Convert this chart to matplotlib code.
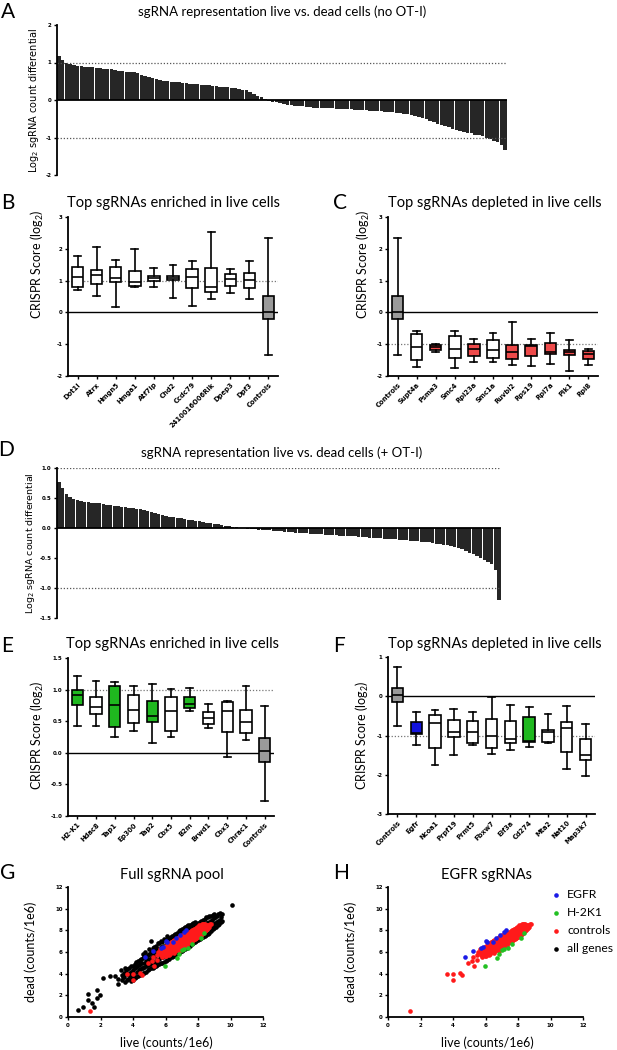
import matplotlib
matplotlib.use('Agg')
import matplotlib.pyplot as plt
import numpy as np

# ---------------- data ----------------
# Panel A waterfall (sorted log2 differential, no OT-I)
waterfall_A = [1.17, 1.06, 1.00, 0.96, 0.93, 0.91, 0.90, 0.89, 0.88, 0.87,
               0.86, 0.85, 0.84, 0.83, 0.82, 0.80, 0.78, 0.77, 0.76, 0.75,
               0.74, 0.72, 0.68, 0.64, 0.61, 0.58, 0.56, 0.54, 0.52, 0.50,
               0.49, 0.48, 0.47, 0.46, 0.45, 0.44, 0.43, 0.42, 0.41, 0.40,
               0.39, 0.38, 0.37, 0.36, 0.35, 0.34, 0.33, 0.32, 0.30, 0.28,
               0.26, 0.22, 0.17, 0.12, 0.07, 0.02, -0.02, -0.04, -0.06, -0.08,
               -0.10, -0.12, -0.14, -0.15, -0.16, -0.17, -0.18, -0.19, -0.20, -0.20,
               -0.21, -0.21, -0.22, -0.22, -0.23, -0.23, -0.24, -0.24, -0.25, -0.26,
               -0.26, -0.27, -0.27, -0.28, -0.29, -0.29, -0.30, -0.31, -0.32, -0.33,
               -0.34, -0.35, -0.36, -0.38, -0.40, -0.42, -0.45, -0.48, -0.51, -0.55,
               -0.59, -0.63, -0.66, -0.70, -0.73, -0.76, -0.79, -0.82, -0.85, -0.87,
               -0.89, -0.92, -0.94, -0.97, -1.00, -1.04, -1.08, -1.13, -1.20, -1.32]

# Panel D waterfall (+ OT-I)
waterfall_D = [0.77, 0.66, 0.56, 0.52, 0.49, 0.47, 0.45, 0.44, 0.43, 0.42,
               0.41, 0.41, 0.40, 0.39, 0.38, 0.37, 0.36, 0.35, 0.35, 0.34,
               0.33, 0.32, 0.31, 0.30, 0.28, 0.27, 0.25, 0.23, 0.21, 0.20,
               0.19, 0.18, 0.17, 0.16, 0.15, 0.14, 0.13, 0.12, 0.11, 0.10,
               0.09, 0.08, 0.07, 0.06, 0.05, 0.04, 0.03, 0.02, 0.01, 0.005,
               -0.005, -0.01, -0.015, -0.02, -0.025, -0.03, -0.035, -0.04, -0.045, -0.05,
               -0.055, -0.06, -0.065, -0.07, -0.075, -0.08, -0.085, -0.09, -0.095, -0.10,
               -0.10, -0.105, -0.11, -0.115, -0.12, -0.12, -0.125, -0.13, -0.135, -0.14,
               -0.14, -0.145, -0.15, -0.155, -0.16, -0.16, -0.165, -0.17, -0.175, -0.18,
               -0.185, -0.19, -0.195, -0.20, -0.205, -0.21, -0.215, -0.22, -0.225, -0.23,
               -0.24, -0.25, -0.26, -0.27, -0.28, -0.29, -0.30, -0.31, -0.33, -0.35,
               -0.38, -0.41, -0.44, -0.47, -0.50, -0.53, -0.56, -0.60, -0.70, -1.20]

# Panel B
labels_B = ['Dot1l', 'Atrx', 'Hmgn5', 'Hmga1', 'Atf7ip', 'Chd2', 'Ccdc79',
            '2410016O06Rik', 'Dpep3', 'Dpf3', 'Controls']
B_hi = [1.78, 2.05, 1.64, 2.00, 1.41, 1.48, 1.61, 2.52, 1.36, 1.61, 2.35]
B_q3 = [1.44, 1.33, 1.44, 1.29, 1.15, 1.14, 1.36, 1.39, 1.21, 1.23, 0.53]
B_med = [1.12, 1.19, 1.07, 0.97, 1.07, 1.08, 1.11, 0.81, 1.06, 1.02, 0.02]
B_q1 = [0.81, 0.88, 0.96, 0.83, 1.00, 1.02, 0.76, 0.63, 0.83, 0.78, -0.22]
B_lo = [0.72, 0.51, 0.16, 0.79, 0.79, 0.46, 0.19, 0.41, 0.60, 0.41, -1.34]
B_groups = ['w', 'w', 'w', 'w', 'w', 'w', 'w', 'w', 'w', 'w', 'c']

# Panel C
labels_C = ['Controls', 'Supt4a', 'Psma3', 'Smc4', 'Rpl23a', 'Smc1a', 'Ruvbl2',
            'Rps19', 'Rpl7a', 'Plk1', 'Rpl8']
C_hi = [2.35, -0.57, -0.98, -0.58, -0.85, -0.66, -0.30, -0.84, -0.64, -0.87, -1.16]
C_q3 = [0.53, -0.68, -1.01, -0.74, -1.00, -0.88, -1.03, -1.01, -0.96, -1.17, -1.20]
C_med = [0.02, -1.10, -1.08, -1.15, -1.15, -1.19, -1.24, -1.05, -1.26, -1.23, -1.31]
C_q1 = [-0.22, -1.50, -1.19, -1.43, -1.36, -1.43, -1.45, -1.38, -1.30, -1.34, -1.48]
C_lo = [-1.34, -1.71, -1.23, -1.74, -1.56, -1.57, -1.66, -1.68, -1.61, -1.85, -1.66]
C_groups = ['c', 'w', 'r', 'w', 'r', 'w', 'r', 'r', 'r', 'r', 'r']

# Panel E
labels_E = ['H2-K1', 'Hdac8', 'Tap1', 'Ep300', 'Tap2', 'Cbx5', 'B2m', 'Brwd1',
            'Cbx3', 'Chrac1', 'Controls']
E_hi = [1.21, 1.13, 1.12, 1.06, 1.09, 1.01, 1.02, 0.78, 0.82, 1.06, 0.74]
E_q3 = [0.99, 0.89, 1.05, 0.91, 0.82, 0.89, 0.88, 0.64, 0.81, 0.68, 0.23]
E_med = [0.92, 0.72, 0.76, 0.67, 0.58, 0.66, 0.77, 0.55, 0.66, 0.48, 0.03]
E_q1 = [0.76, 0.62, 0.41, 0.47, 0.49, 0.35, 0.71, 0.45, 0.33, 0.32, -0.14]
E_lo = [0.43, 0.43, 0.25, 0.35, 0.15, 0.25, 0.66, 0.39, -0.07, 0.21, -0.77]
E_groups = ['g', 'w', 'g', 'w', 'g', 'w', 'g', 'w', 'w', 'w', 'c']

# Panel F
labels_F = ['Controls', 'Egfr', 'Ncoa1', 'Prpf19', 'Prmt5', 'Fbxw7', 'Eif3a',
            'Cd274', 'Mta2', 'Nat10', 'Map3k7']
F_hi = [0.74, -0.39, -0.36, -0.32, -0.40, -0.02, -0.22, -0.27, -0.44, -0.26, -0.71]
F_q3 = [0.22, -0.66, -0.49, -0.61, -0.64, -0.57, -0.64, -0.54, -0.86, -0.66, -1.08]
F_med = [0.03, -0.94, -0.68, -0.90, -0.90, -1.00, -1.10, -1.14, -0.90, -0.82, -1.49]
F_q1 = [-0.14, -0.96, -1.32, -1.05, -1.20, -1.32, -1.18, -1.17, -1.17, -1.43, -1.63]
F_lo = [-0.77, -1.24, -1.74, -1.49, -1.25, -1.46, -1.36, -1.30, -1.19, -1.86, -2.04]
F_groups = ['c', 'b', 'w', 'w', 'w', 'w', 'w', 'g', 'w', 'w', 'w']

# Scatter: all genes (live, dead) counts/1e6 -- one line of x matches one line of y
allgenes_x = [0.60, 0.95, 1.25, 1.20, 1.45, 1.60, 1.80, 1.80, 1.95, 2.15, 2.60, 2.90, 3.10, 3.10, 10.1,
              3.30, 3.35, 3.25,
              3.40, 3.42,
              3.50, 3.45, 3.55, 3.50,
              3.60, 3.62, 3.58,
              3.70, 3.75, 3.65,
              3.80, 3.82, 3.78,
              3.90, 3.95, 3.85, 3.90,
              4.00, 4.02, 3.98, 4.01,
              4.10, 4.05, 4.15, 4.10,
              4.20, 4.22, 4.18, 4.21,
              4.30, 4.35, 4.25, 4.30,
              4.40, 4.42, 4.38, 4.41,
              4.50, 4.55, 4.45, 4.50,
              4.60, 4.62, 4.58, 4.61, 4.60,
              4.70, 4.65, 4.75, 4.70, 4.72,
              4.80, 4.82, 4.78, 4.81,
              4.90, 4.95, 4.85, 4.90,
              5.00, 5.02, 4.98, 5.01, 5.00,
              5.10, 5.05, 5.15, 5.10, 5.12,
              5.20, 5.22, 5.18, 5.21, 5.20,
              5.30, 5.35, 5.25, 5.30, 5.28,
              5.40, 5.42, 5.38, 5.41, 5.40,
              5.50, 5.45, 5.55, 5.50, 5.52,
              5.60, 5.62, 5.58, 5.61, 5.60,
              5.70, 5.75, 5.65, 5.70, 5.72,
              5.80, 5.82, 5.78, 5.81, 5.80,
              5.90, 5.85, 5.95, 5.90, 5.92,
              6.00, 6.02, 5.98, 6.01, 6.00,
              6.10, 6.15, 6.05, 6.10, 6.07,
              6.20, 6.22, 6.18, 6.21, 6.20,
              6.30, 6.25, 6.35, 6.30, 6.32,
              6.40, 6.42, 6.38, 6.41, 6.40,
              6.50, 6.45, 6.55, 6.50, 6.52,
              6.60, 6.62, 6.58, 6.61, 6.60,
              6.70, 6.75, 6.65, 6.70, 6.72,
              6.80, 6.82, 6.78, 6.81, 6.80,
              6.90, 6.85, 6.95, 6.90, 6.92,
              7.00, 7.02, 6.98, 7.01, 7.00,
              7.10, 7.15, 7.05, 7.10, 7.12,
              7.20, 7.22, 7.18, 7.21, 7.20,
              7.30, 7.25, 7.35, 7.30, 7.32,
              7.40, 7.42, 7.38, 7.41, 7.40,
              7.50, 7.45, 7.55, 7.50, 7.52,
              7.60, 7.62, 7.58, 7.61, 7.60,
              7.70, 7.75, 7.65, 7.70, 7.72,
              7.80, 7.82, 7.78, 7.81, 7.80,
              7.90, 7.95, 7.85, 7.90,
              8.00, 8.02, 7.98, 8.01,
              8.10, 8.05, 8.15, 8.10,
              8.20, 8.22, 8.18, 8.21,
              8.30, 8.35, 8.25, 8.30,
              8.40, 8.42, 8.38, 8.41,
              8.50, 8.45, 8.55, 8.50,
              8.60, 8.62, 8.58, 8.61,
              8.70, 8.75, 8.65, 8.70,
              8.80, 8.82, 8.78, 8.81,
              8.90, 8.95, 8.85, 8.90,
              9.00, 9.02, 8.98, 9.01,
              9.10, 9.15, 9.05,
              9.20, 9.22, 9.18,
              9.30, 9.35, 9.25,
              9.40, 9.42, 9.38,
              9.50, 9.45]
allgenes_y = [0.65, 0.90, 2.10, 1.55, 1.30, 0.90, 1.75, 2.45, 2.05, 3.60, 3.75, 3.80, 3.55, 3.05, 10.3,
              3.40, 3.90, 4.30,
              3.65, 4.10,
              3.20, 3.70, 4.10, 4.50,
              3.45, 3.95, 4.35,
              3.50, 3.90, 4.40,
              3.60, 4.05, 4.55,
              3.30, 3.80, 4.20, 4.70,
              3.45, 3.85, 4.30, 4.75,
              3.60, 4.00, 4.50, 4.90,
              3.70, 4.15, 4.60, 5.05,
              3.80, 4.30, 4.70, 5.20,
              3.90, 4.40, 4.80, 5.30,
              4.00, 4.50, 4.90, 5.40,
              4.05, 4.50, 4.95, 5.45, 5.80,
              4.10, 4.60, 5.00, 5.50, 6.00,
              4.20, 4.70, 5.15, 5.60,
              4.30, 4.80, 5.30, 5.70,
              4.40, 4.90, 5.35, 5.80, 6.30,
              4.50, 5.00, 5.50, 6.00, 7.00,
              4.50, 5.00, 5.45, 5.90, 6.40,
              4.60, 5.10, 5.60, 6.10, 6.50,
              4.70, 5.20, 5.65, 6.10, 6.60,
              4.80, 5.30, 5.80, 6.30, 6.80,
              4.90, 5.40, 5.85, 6.30, 6.80,
              5.00, 5.50, 6.00, 6.50, 7.00,
              5.00, 5.50, 6.00, 6.45, 6.95,
              5.10, 5.60, 6.10, 6.60, 7.20,
              5.20, 5.70, 6.20, 6.60, 7.10,
              5.30, 5.80, 6.30, 6.80, 7.50,
              5.40, 5.90, 6.40, 6.85, 7.30,
              5.50, 6.00, 6.50, 7.00, 7.40,
              5.50, 6.10, 6.55, 7.05, 7.50,
              5.60, 6.20, 6.70, 7.20, 7.60,
              5.75, 6.25, 6.75, 7.25, 7.70,
              5.90, 6.40, 6.90, 7.40, 7.80,
              5.90, 6.45, 6.95, 7.45, 7.90,
              6.00, 6.60, 7.10, 7.60, 8.00,
              6.10, 6.65, 7.15, 7.65, 8.10,
              6.20, 6.80, 7.30, 7.80, 8.20,
              6.30, 6.85, 7.35, 7.85, 8.30,
              6.40, 7.00, 7.50, 8.00, 8.40,
              6.50, 7.05, 7.55, 8.05, 8.45,
              6.60, 7.10, 7.70, 8.20, 8.50,
              6.70, 7.20, 7.75, 8.25, 8.60,
              6.80, 7.30, 7.90, 8.40, 8.70,
              6.90, 7.40, 7.95, 8.45, 8.80,
              7.00, 7.50, 8.10, 8.60,
              7.10, 7.60, 8.15, 8.65,
              7.20, 7.70, 8.30, 8.80,
              7.30, 7.80, 8.35, 8.85,
              7.40, 7.90, 8.50, 9.00,
              7.50, 8.00, 8.55, 9.05,
              7.60, 8.10, 8.70, 9.20,
              7.70, 8.20, 8.70, 9.20,
              7.80, 8.30, 8.80, 9.30,
              7.90, 8.40, 8.90, 9.35,
              8.10, 8.50, 9.00, 9.40,
              8.20, 8.65, 9.10, 9.50,
              8.30, 8.80, 9.20,
              8.45, 8.90, 9.35,
              8.60, 9.00, 9.50,
              8.75, 9.20, 9.60,
              8.90, 9.50]

# controls (live, dead) -- one line of x matches one line of y
controls_x = [1.35, 3.65, 4.00, 4.00, 4.45, 4.55, 4.90, 5.15, 5.30, 5.25, 5.45, 5.50, 5.55,
              5.70, 5.73, 5.67,
              5.75, 5.77,
              5.80, 5.83, 5.77,
              5.85, 5.87, 5.83,
              5.90, 5.93, 5.87,
              5.95, 5.97, 5.93, 5.96,
              6.00, 6.03, 5.97, 6.01,
              6.05, 6.07, 6.03, 6.06,
              6.10, 6.13, 6.07, 6.11,
              6.15, 6.17, 6.13, 6.16,
              6.20, 6.23, 6.17, 6.21,
              6.25, 6.27, 6.23, 6.26,
              6.30, 6.33, 6.27, 6.31,
              6.35, 6.37, 6.33, 6.36,
              6.40, 6.43, 6.37, 6.41,
              6.45, 6.47, 6.43, 6.46,
              6.50, 6.53, 6.47, 6.51, 6.49,
              6.55, 6.57, 6.53, 6.56, 6.54,
              6.60, 6.63, 6.57, 6.61,
              6.65, 6.67, 6.63, 6.66,
              6.70, 6.73, 6.67, 6.71,
              6.75, 6.77, 6.73, 6.76,
              6.80, 6.83, 6.77, 6.81, 6.79,
              6.85, 6.87, 6.83, 6.86, 6.84,
              6.90, 6.93, 6.87, 6.91,
              6.95, 6.97, 6.93, 6.96,
              7.00, 7.03, 6.97, 7.01, 6.99,
              7.05, 7.07, 7.03, 7.06, 7.04,
              7.10, 7.13, 7.07, 7.11,
              7.15, 7.17, 7.13, 7.16,
              7.20, 7.23, 7.17, 7.21,
              7.25, 7.27, 7.23, 7.26,
              7.30, 7.33, 7.27, 7.31,
              7.35, 7.37, 7.33, 7.36,
              7.40, 7.43, 7.37, 7.41,
              7.45, 7.47, 7.43, 7.46,
              7.50, 7.53, 7.47, 7.51,
              7.55, 7.57, 7.53, 7.56,
              7.60, 7.63, 7.57, 7.61,
              7.65, 7.67, 7.63, 7.66,
              7.70, 7.73, 7.67, 7.71,
              7.75, 7.77, 7.73, 7.76,
              7.80, 7.83, 7.77, 7.81,
              7.85, 7.87, 7.83, 7.86,
              7.90, 7.93, 7.87, 7.91,
              7.95, 7.97, 7.93, 7.96,
              8.00, 8.03, 7.97, 8.01,
              8.05, 8.07, 8.03, 8.06,
              8.10, 8.13, 8.07, 8.11,
              8.15, 8.17, 8.13, 8.16,
              8.20, 8.23, 8.17, 8.21,
              8.25, 8.27, 8.23, 8.26,
              8.30, 8.33, 8.27,
              8.35, 8.37, 8.33,
              8.40, 8.43, 8.37,
              8.45, 8.47, 8.43,
              8.50, 8.53,
              8.55, 8.57,
              8.60, 8.63,
              8.70, 8.72,
              8.80]
controls_y = [0.60, 3.95, 3.95, 3.45, 4.10, 3.85, 4.95, 5.15, 4.75, 5.50, 5.30, 5.75, 6.00,
              5.70, 6.00, 6.25,
              5.85, 6.10,
              5.50, 5.90, 6.30,
              5.70, 6.05, 6.35,
              5.80, 6.10, 6.40,
              5.65, 5.95, 6.25, 6.50,
              5.60, 5.90, 6.20, 6.50,
              5.75, 6.05, 6.35, 6.60,
              5.80, 6.00, 6.30, 6.60,
              5.90, 6.20, 6.50, 6.75,
              5.70, 6.10, 6.40, 6.70,
              5.85, 6.25, 6.55, 6.85,
              5.90, 6.20, 6.50, 6.80,
              6.05, 6.35, 6.65, 6.95,
              6.00, 6.30, 6.60, 6.90,
              6.10, 6.40, 6.70, 7.00,
              5.90, 6.20, 6.50, 6.80, 7.00,
              6.05, 6.35, 6.65, 6.95, 7.10,
              6.10, 6.40, 6.70, 7.00,
              6.25, 6.55, 6.85, 7.15,
              6.20, 6.50, 6.80, 7.10,
              6.30, 6.60, 6.90, 7.20,
              6.10, 6.40, 6.70, 7.00, 7.30,
              6.25, 6.55, 6.85, 7.15, 7.40,
              6.30, 6.60, 6.90, 7.20,
              6.45, 6.75, 7.05, 7.35,
              6.40, 6.70, 7.00, 7.30, 7.50,
              6.50, 6.85, 7.15, 7.45, 7.60,
              6.50, 6.80, 7.10, 7.40,
              6.60, 6.95, 7.25, 7.55,
              6.60, 6.90, 7.20, 7.50,
              6.70, 7.05, 7.35, 7.65,
              6.60, 7.00, 7.30, 7.60,
              6.75, 7.15, 7.45, 7.75,
              6.80, 7.10, 7.40, 7.70,
              6.90, 7.25, 7.55, 7.85,
              6.90, 7.20, 7.50, 7.80,
              7.00, 7.35, 7.65, 7.95,
              7.00, 7.30, 7.60, 7.90,
              7.10, 7.45, 7.75, 8.05,
              7.10, 7.40, 7.70, 8.00,
              7.20, 7.55, 7.85, 8.15,
              7.20, 7.50, 7.80, 8.10,
              7.30, 7.65, 7.95, 8.25,
              7.30, 7.60, 7.90, 8.20,
              7.40, 7.75, 8.05, 8.35,
              7.40, 7.70, 8.00, 8.30,
              7.50, 7.85, 8.15, 8.45,
              7.50, 7.80, 8.10, 8.40,
              7.60, 7.95, 8.25, 8.50,
              7.60, 7.90, 8.20, 8.40,
              7.70, 8.05, 8.35, 8.55,
              7.80, 8.10, 8.50,
              7.90, 8.20, 8.55,
              7.90, 8.20, 8.60,
              8.05, 8.35, 8.60,
              8.00, 8.30,
              8.15, 8.45,
              8.20, 8.50,
              8.35, 8.60,
              8.60]

egfr_x = [4.75, 5.25, 5.75, 5.85, 6.00, 6.10, 6.45, 6.65, 7.15, 7.25, 6.90]
egfr_y = [5.55, 6.10, 6.35, 6.50, 7.00, 6.90, 6.95, 7.30, 7.85, 8.00, 7.60]
h2k1_x = [5.95, 6.70, 6.80, 7.15, 7.40, 7.65, 8.20, 8.35, 7.00]
h2k1_y = [4.75, 5.45, 5.85, 6.30, 6.35, 6.70, 7.30, 7.80, 6.20]

scatter_ticks = [0, 2, 4, 6, 8, 10, 12]

# ---------------- style ----------------
W, H = 617, 1050
fig = plt.figure(figsize=(W / 100, H / 100), dpi=100)

TITLE_FONT = 'Lato'
TICK_FONT = 'DejaVu Sans'
COL = {'w': 'white', 'c': '#9a9a9a', 'r': '#ee4a4a', 'g': '#1fb81f', 'b': '#1212dd'}
SC_RED, SC_GREEN, SC_BLUE = '#ff1a1a', '#22c022', '#1a1ae6'


def add_ax(l, t, r, b):
    return fig.add_axes([l / W, 1 - b / H, (r - l) / W, (b - t) / H])


def ftext(x, y, s, **kw):
    fig.text(x / W, 1 - y / H, s, **kw)


def base_style(ax, bottom=True):
    for s in ['top', 'right']:
        ax.spines[s].set_visible(False)
    ax.spines['left'].set_linewidth(1.3)
    ax.spines['bottom'].set_linewidth(1.3)
    if not bottom:
        ax.spines['bottom'].set_visible(False)
    ax.tick_params(direction='out', length=2.5, width=1.0, pad=1.5)


def set_yt(ax, ticks, labels):
    ax.set_yticks(ticks, labels, fontsize=4.0, fontweight='bold', family=TICK_FONT)


# ---------------- waterfalls ----------------
def waterfall(ax, vals, ylim, yticks, ylabels):
    x = np.arange(len(vals))
    ax.bar(x, vals, width=0.93, color='#262626', linewidth=0)
    ax.axhline(0, color='black', lw=1.3)
    ax.axhline(1, color='#555555', lw=0.9, ls=(0, (1, 1.5)))
    ax.axhline(-1, color='#555555', lw=0.9, ls=(0, (1, 1.5)))
    ax.set_xlim(-0.5, len(vals) - 0.5)
    ax.set_ylim(*ylim)
    base_style(ax, bottom=False)
    ax.set_xticks([])
    set_yt(ax, yticks, ylabels)


axA = add_ax(57, 25, 507, 175)
waterfall(axA, waterfall_A, (-2, 2), [-2, -1, 0, 1, 2], ['-2', '-1', '0', '1', '2'])
axD = add_ax(57, 468, 501, 618)
waterfall(axD, waterfall_D, (-1.5, 1.0), [-1.5, -1.0, -0.5, 0, 0.5, 1.0],
          ['-1.5', '-1.0', '-0.5', '0.0', '0.5', '1.0'])


# ---------------- box plots ----------------
def boxpanel(ax, labels, lo, q1, med, q3, hi, groups, ylim, yticks, ylabels, dotted):
    stats = [dict(whislo=lo[i], q1=q1[i], med=med[i], q3=q3[i], whishi=hi[i], label=labels[i])
             for i in range(len(labels))]
    pos = np.arange(len(labels))
    bp = ax.bxp(stats, positions=pos, widths=0.6, capwidths=0.36, patch_artist=True,
                showfliers=False,
                boxprops=dict(linewidth=1.2, edgecolor='black'),
                medianprops=dict(color='black', linewidth=1.2),
                whiskerprops=dict(linewidth=1.2, color='black'),
                capprops=dict(linewidth=1.2, color='black'))
    for patch, g in zip(bp['boxes'], groups):
        patch.set_facecolor(COL[g])
    ax.axhline(0, color='black', lw=1.0, zorder=0)
    ax.axhline(dotted, color='#777777', lw=0.9, ls=(0, (1, 1.5)), zorder=0)
    ax.set_xlim(-0.5, len(labels) - 0.5)
    ax.set_ylim(*ylim)
    base_style(ax)
    ax.set_xticks(pos, labels, rotation=45, ha='right', rotation_mode='anchor',
                  fontsize=4.9, fontweight='bold', family=TICK_FONT)
    set_yt(ax, yticks, ylabels)


axB = add_ax(68, 217, 278, 376)
boxpanel(axB, labels_B, B_lo, B_q1, B_med, B_q3, B_hi, B_groups, (-2, 3),
         [-2, -1, 0, 1, 2, 3], ['-2', '-1', '0', '1', '2', '3'], 1)
axC = add_ax(388, 217, 598, 376)
boxpanel(axC, labels_C, C_lo, C_q1, C_med, C_q3, C_hi, C_groups, (-2, 3),
         [-2, -1, 0, 1, 2, 3], ['-2', '-1', '0', '1', '2', '3'], -1)
axE = add_ax(68, 658, 274, 816)
boxpanel(axE, labels_E, E_lo, E_q1, E_med, E_q3, E_hi, E_groups, (-1.0, 1.5),
         [-1.0, -0.5, 0, 0.5, 1.0, 1.5], ['-1.0', '-0.5', '0.0', '0.5', '1.0', '1.5'], 1)
axF = add_ax(388, 657, 595, 814)
boxpanel(axF, labels_F, F_lo, F_q1, F_med, F_q3, F_hi, F_groups, (-3, 1),
         [-3, -2, -1, 0, 1], ['-3', '-2', '-1', '0', '1'], -1)


# ---------------- scatters ----------------
def scatter_style(ax):
    ax.set_xlim(0, 12)
    ax.set_ylim(0, 12)
    base_style(ax)
    ax.set_xticks(scatter_ticks, [str(t) for t in scatter_ticks], fontsize=4.0,
                  fontweight='bold', family=TICK_FONT)
    set_yt(ax, scatter_ticks, [str(t) for t in scatter_ticks])


S = 11
axG = add_ax(68, 887, 263, 1017)
axG.scatter(allgenes_x, allgenes_y, s=S, c='black', linewidths=0, clip_on=False)
axG.scatter(controls_x, controls_y, s=S, c=SC_RED, linewidths=0, clip_on=False)
axG.scatter(h2k1_x, h2k1_y, s=S, c=SC_GREEN, linewidths=0, clip_on=False)
axG.scatter(egfr_x, egfr_y, s=S, c=SC_BLUE, linewidths=0, clip_on=False)
scatter_style(axG)

axH = add_ax(388, 887, 583, 1017)
axH.scatter(controls_x, controls_y, s=S, c=SC_RED, linewidths=0, clip_on=False)
axH.scatter(h2k1_x, h2k1_y, s=S, c=SC_GREEN, linewidths=0, clip_on=False)
axH.scatter(egfr_x, egfr_y, s=S, c=SC_BLUE, linewidths=0, clip_on=False)
scatter_style(axH)

# legend for H (manual)
leg_items = [('EGFR', SC_BLUE), ('H-2K1', SC_GREEN), ('controls', SC_RED), ('all genes', 'black')]
for i, (name, c) in enumerate(leg_items):
    yy = 895 + i * 18
    axH.scatter([(556 - 388) / 195], [(1017 - yy) / 130], s=S, c=c, linewidths=0,
                transform=axH.transAxes, clip_on=False)
    ftext(567, yy, name, fontsize=8.7, family=TITLE_FONT, va='center', ha='left')

# ---------------- text ----------------
TS = 9.5
TS2 = 10.5
ftext(282, 12, 'sgRNA representation live vs. dead cells (no OT-I)', fontsize=TS,
      family=TITLE_FONT, ha='center', va='center')
ftext(282, 453, 'sgRNA representation live vs. dead cells (+ OT-I)', fontsize=TS,
      family=TITLE_FONT, ha='center', va='center')
ftext(174, 203, 'Top sgRNAs enriched in live cells', fontsize=TS2, family=TITLE_FONT,
      ha='center', va='center')
ftext(495, 203, 'Top sgRNAs depleted in live cells', fontsize=TS2, family=TITLE_FONT,
      ha='center', va='center')
ftext(173, 644, 'Top sgRNAs enriched in live cells', fontsize=TS2, family=TITLE_FONT,
      ha='center', va='center')
ftext(495, 644, 'Top sgRNAs depleted in live cells', fontsize=TS2, family=TITLE_FONT,
      ha='center', va='center')
ftext(172, 875, 'Full sgRNA pool', fontsize=TS2, family=TITLE_FONT, ha='center', va='center')
ftext(487, 875, 'EGFR sgRNAs', fontsize=TS2, family=TITLE_FONT, ha='center', va='center')

for letter, x, y in [('A', 8, 12), ('B', 8, 203), ('C', 340, 203), ('D', 6, 450),
                     ('E', 7, 646), ('F', 339, 646), ('G', 8, 873), ('H', 341, 873)]:
    ftext(x, y, letter, fontsize=15, family=TITLE_FONT, ha='center', va='center')

YLF = 'DejaVu Sans'
ftext(34, 100, r'Log$_2$ sgRNA count differential', fontsize=7.0, family=YLF,
      rotation=90, ha='center', va='center')
ftext(31, 543, r'Log$_2$ sgRNA count differential', fontsize=6.8, family=YLF,
      rotation=90, ha='center', va='center')
for x, y in [(37, 264), (363, 264), (37, 735), (362, 735)]:
    ftext(x, y, r'CRISPR Score (log$_\mathregular{2}$)', fontsize=9, family=TITLE_FONT,
          rotation=90, ha='center', va='center')
for x in [31, 351]:
    ftext(x, 952, 'dead (counts/1e6)', fontsize=9, family=TITLE_FONT, rotation=90,
          ha='center', va='center')
for x in [166, 487]:
    ftext(x, 1043, 'live (counts/1e6)', fontsize=9, family=TITLE_FONT, ha='center',
          va='center')

fig.savefig('out.png', dpi=100)
